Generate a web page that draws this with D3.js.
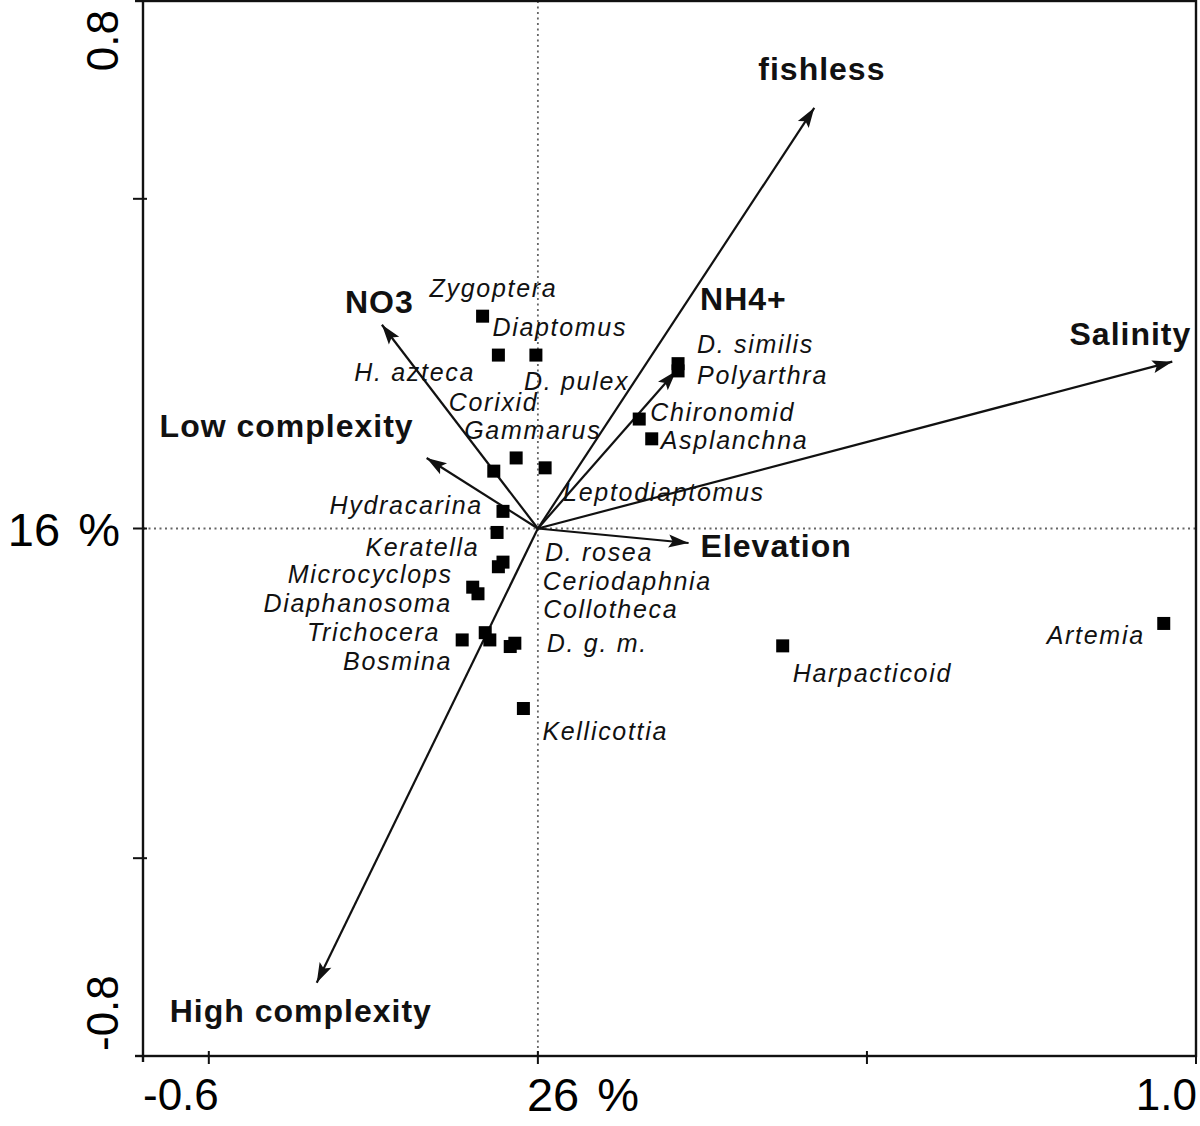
<!DOCTYPE html>
<html><head><meta charset="utf-8">
<script src="https://cdn.jsdelivr.net/npm/d3@7"></script>
<style>html,body{margin:0;padding:0;background:#fff;} svg{display:block;}</style>
</head><body>
<svg id="chart" width="1200" height="1126"></svg>
<script>
// ---------------- data ----------------
const xDomain = [-0.6, 1.0];
const yDomain = [-0.8, 0.8];
const xTickValues = [-0.5, 0, 0.5, 1.0];
const yTickValues = [-0.5, 0, 0.5];
const xAxisLabels = ["-0.6", "26 %", "1.0"];   // min, axis-1 eigenvalue share, max
const yAxisLabels = ["0.8", "16 %", "-0.8"];   // max, axis-2 eigenvalue share, min

const envNames = ["fishless", "Salinity", "NH4+", "NO3", "Low complexity", "Elevation", "High complexity"];
const envX = [0.420, 0.964, 0.210, -0.237, -0.169, 0.229, -0.336];
const envY = [0.638, 0.253, 0.239, 0.309, 0.107, -0.022, -0.689];

const speciesNames = ["Zygoptera", "Diaptomus", "D. pulex", "Gammarus", "Corixid", "Leptodiaptomus",
  "Hydracarina", "H. azteca", "Keratella", "D. rosea", "Microcyclops", "Diaphanosoma",
  "Trichocera", "Bosmina", "Ceriodaphnia", "Collotheca", "D. g. m.", "Kellicottia",
  "D. similis", "Polyarthra", "Chironomid", "Asplanchna", "Harpacticoid", "Artemia"];
const speciesX = [-0.084, -0.060, -0.003, -0.033, -0.067, 0.011,
  -0.053, -0.062, -0.060, -0.053, -0.099, -0.091,
  -0.115, -0.080, -0.073, -0.042, -0.035, -0.022,
  0.213, 0.213, 0.154, 0.173, 0.372, 0.951];
const speciesY = [0.322, 0.263, 0.263, 0.107, 0.087, 0.092,
  0.026, -0.006, -0.058, -0.051, -0.089, -0.099,
  -0.169, -0.158, -0.169, -0.179, -0.174, -0.273,
  0.250, 0.239, 0.166, 0.136, -0.178, -0.144];

// ---------------- layout (label placement, pixels) ----------------
const speciesLabelLayout = {
  "Zygoptera": [-53, -19, "start"], "Diaptomus": [-6, -19, "start"], "D. pulex": [-12, 35, "start"],
  "Gammarus": [-52, -19, "start"], "Corixid": [-45, -60, "start"], "Leptodiaptomus": [18, 33, "start"],
  "Hydracarina": [-20, 3, "end"], "H. azteca": [-22, -151, "end"], "Keratella": [-19, -11, "end"],
  "D. rosea": [42, -1, "start"], "Microcyclops": [-20, -4, "end"], "Diaphanosoma": [-26, 18, "end"],
  "Trichocera": [-22, 1, "end"], "Bosmina": [-33, 37, "end"], "Ceriodaphnia": [53, -50, "start"],
  "Collotheca": [33, -29, "start"], "D. g. m.": [32, 9, "start"], "Kellicottia": [19, 31, "start"],
  "D. similis": [19, -11, "start"], "Polyarthra": [19, 13, "start"], "Chironomid": [11, 2, "start"],
  "Asplanchna": [9, 10, "start"], "Harpacticoid": [10, 36, "start"], "Artemia": [-19, 21, "end"]
};
const envLabelLayout = {
  "fishless": [-56, -28, "start"], "Salinity": [19, -17, "end"], "NH4+": [24, -61, "start"],
  "NO3": [-37, -12, "start"], "Low complexity": [-13, -21, "end"], "Elevation": [12, 14, "start"],
  "High complexity": [-147, 39, "start"]
};

// ---------------- drawing ----------------
const svg = d3.select("#chart");
const FONT = "'Liberation Sans', Arial, Helvetica, sans-serif";
const x = d3.scaleLinear().domain(xDomain).range([143, 1196]);
const y = d3.scaleLinear().domain(yDomain).range([1056, 1]);

// dotted origin lines
svg.append("line").attr("x1", x(0)).attr("x2", x(0)).attr("y1", y(yDomain[1])).attr("y2", y(yDomain[0]))
  .attr("stroke", "#666").attr("stroke-width", 1.8).attr("stroke-dasharray", "2,3.5");
svg.append("line").attr("x1", x(xDomain[0])).attr("x2", x(xDomain[1])).attr("y1", y(0)).attr("y2", y(0))
  .attr("stroke", "#666").attr("stroke-width", 1.8).attr("stroke-dasharray", "2,3.5");

// frame
svg.append("rect").attr("x", x(xDomain[0])).attr("y", y(yDomain[1]))
  .attr("width", x(xDomain[1]) - x(xDomain[0])).attr("height", y(yDomain[0]) - y(yDomain[1]))
  .attr("fill", "none").attr("stroke", "#111").attr("stroke-width", 2.4);
// axis overhangs
svg.append("line").attr("x1", x(xDomain[0]) - 8).attr("x2", x(xDomain[0])).attr("y1", y(yDomain[0])).attr("y2", y(yDomain[0])).attr("stroke", "#111").attr("stroke-width", 2.4);
svg.append("line").attr("x1", x(xDomain[0])).attr("x2", x(xDomain[0])).attr("y1", y(yDomain[0])).attr("y2", y(yDomain[0]) + 6).attr("stroke", "#111").attr("stroke-width", 2.4);
svg.append("line").attr("x1", x(xDomain[0]) - 8).attr("x2", x(xDomain[0])).attr("y1", y(yDomain[1])).attr("y2", y(yDomain[1])).attr("stroke", "#111").attr("stroke-width", 2.4);

// ticks
svg.selectAll(".xt").data(xTickValues).join("line").attr("class", "xt")
  .attr("x1", d => x(d)).attr("x2", d => x(d)).attr("y1", y(yDomain[0]) - 5).attr("y2", y(yDomain[0]) + 8)
  .attr("stroke", "#111").attr("stroke-width", 2);
svg.selectAll(".yt").data(yTickValues).join("line").attr("class", "yt")
  .attr("y1", d => y(d)).attr("y2", d => y(d)).attr("x1", x(xDomain[0]) - 10).attr("x2", x(xDomain[0]) + 4)
  .attr("stroke", "#111").attr("stroke-width", 2);

// axis labels
const axisFont = 44;
const xl = svg.append("g").attr("font-family", FONT).attr("font-size", axisFont).attr("fill", "#000");
xl.append("text").attr("x", x(xDomain[0])).attr("y", 1110).attr("text-anchor", "start").text(xAxisLabels[0]);
xl.append("text").attr("x", x(0) - 11).attr("y", 1111).attr("font-size", 47).attr("text-anchor", "start").attr("word-spacing", 5).text(xAxisLabels[1]);
xl.append("text").attr("x", x(xDomain[1]) + 1).attr("y", 1110).attr("text-anchor", "end").text(xAxisLabels[2]);

xl.append("text").attr("transform", `translate(118,${y(yDomain[1]) + 9}) rotate(-90)`).attr("text-anchor", "end").text(yAxisLabels[0]);
xl.append("text").attr("x", 120).attr("y", y(0) + 17).attr("font-size", 47).attr("text-anchor", "end").attr("word-spacing", 5).text(yAxisLabels[1]);
xl.append("text").attr("transform", `translate(118,${y(yDomain[0]) - 5}) rotate(-90)`).attr("text-anchor", "start").text(yAxisLabels[2]);

// environmental arrows
const env = envNames.map((n, i) => ({ name: n, x: envX[i], y: envY[i] }));
const ag = svg.append("g");
ag.selectAll("line").data(env).join("line")
  .attr("x1", x(0)).attr("y1", y(0))
  .attr("x2", d => x(d.x)).attr("y2", d => y(d.y))
  .attr("stroke", "#111").attr("stroke-width", 2.2);
const headLen = 20, headHalf = 6.5;
ag.selectAll("path").data(env).join("path")
  .attr("d", d => {
    const tx = x(d.x), ty = y(d.y);
    const dx = tx - x(0), dy = ty - y(0);
    const L = Math.hypot(dx, dy), ux = dx / L, uy = dy / L;
    const bx = tx - ux * headLen, by = ty - uy * headLen;
    return `M${tx},${ty}L${bx - uy * headHalf},${by + ux * headHalf}L${bx + ux * 4},${by + uy * 4}L${bx + uy * headHalf},${by - ux * headHalf}Z`;
  })
  .attr("fill", "#111");

svg.append("g").attr("font-family", FONT).attr("font-weight", "bold").attr("font-size", 32)
  .attr("letter-spacing", 1).attr("fill", "#111")
  .selectAll("text").data(env).join("text")
  .attr("x", d => x(d.x) + envLabelLayout[d.name][0])
  .attr("y", d => y(d.y) + envLabelLayout[d.name][1])
  .attr("text-anchor", d => envLabelLayout[d.name][2])
  .text(d => d.name);

// species
const sp = speciesNames.map((n, i) => ({ name: n, x: speciesX[i], y: speciesY[i] }));
const sq = 13;
svg.append("g").selectAll("rect").data(sp).join("rect")
  .attr("x", d => x(d.x) - sq / 2).attr("y", d => y(d.y) - sq / 2)
  .attr("width", sq).attr("height", sq).attr("fill", "#000");

svg.append("g").attr("font-family", FONT).attr("font-style", "italic").attr("font-size", 25)
  .attr("letter-spacing", 1.7).attr("fill", "#111")
  .selectAll("text").data(sp).join("text")
  .attr("x", d => x(d.x) + speciesLabelLayout[d.name][0])
  .attr("y", d => y(d.y) + speciesLabelLayout[d.name][1])
  .attr("text-anchor", d => speciesLabelLayout[d.name][2])
  .text(d => d.name);
</script>
</body></html>
